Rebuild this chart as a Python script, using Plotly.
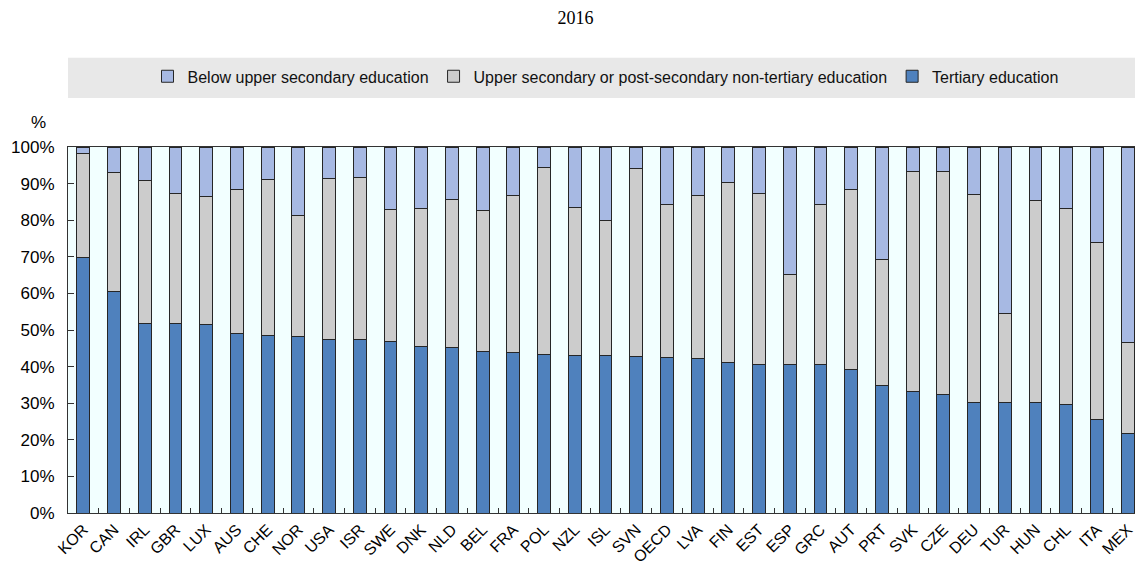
import plotly.graph_objects as go

countries = ["KOR", "CAN", "IRL", "GBR", "LUX", "AUS", "CHE", "NOR", "USA", "ISR",
             "SWE", "DNK", "NLD", "BEL", "FRA", "POL", "NZL", "ISL", "SVN", "OECD",
             "LVA", "FIN", "EST", "ESP", "GRC", "AUT", "PRT", "SVK", "CZE", "DEU",
             "TUR", "HUN", "CHL", "ITA", "MEX"]

tertiary = [69.7, 60.4, 51.7, 51.7, 51.4, 49.0, 48.6, 48.3, 47.3, 47.3,
            46.9, 45.6, 45.2, 44.1, 43.8, 43.4, 43.0, 43.0, 42.8, 42.4,
            42.1, 41.1, 40.7, 40.7, 40.7, 39.3, 34.8, 33.1, 32.5, 30.3,
            30.3, 30.3, 29.7, 25.6, 21.7]

upper_secondary = [28.4, 32.6, 39.2, 35.7, 35.0, 39.4, 42.6, 32.9, 44.2, 44.5,
                   36.1, 37.7, 40.5, 38.5, 42.9, 50.9, 40.6, 36.8, 51.2, 41.8,
                   44.6, 49.1, 46.7, 24.6, 43.5, 49.1, 34.6, 60.2, 60.8, 56.7,
                   24.3, 55.1, 53.5, 48.3, 24.8]

below_upper = [1.9, 7.0, 9.1, 12.6, 13.6, 11.6, 8.8, 18.8, 8.5, 8.2,
               17.0, 16.7, 14.3, 17.4, 13.3, 5.7, 16.4, 20.2, 6.0, 15.8,
               13.3, 9.8, 12.6, 34.7, 15.8, 11.6, 30.6, 6.7, 6.7, 13.0,
               45.4, 14.6, 16.8, 26.1, 53.5]

y_ticks = [0, 10, 20, 30, 40, 50, 60, 70, 80, 90, 100]
y_tick_text = [f"{v}%" for v in y_ticks]

series = [
    ("Tertiary education", tertiary, "#4F81BD"),
    ("Upper secondary or post-secondary non-tertiary education", upper_secondary, "#CCCCCC"),
    ("Below upper secondary education", below_upper, "#A7B9E3"),
]

SANS = "Liberation Sans, Arial, sans-serif"

fig = go.Figure()
for name, vals, color in series:
    fig.add_trace(go.Bar(
        x=countries, y=vals, name=name,
        marker=dict(color=color, line=dict(color="#262626", width=1)),
        width=0.42,
    ))

# page body has an 8px default margin, so the figure is drawn 8px smaller
fig.update_layout(
    width=1135, height=558,
    barmode="stack",
    paper_bgcolor="white",
    plot_bgcolor="#F2FFFF",
    margin=dict(l=60, r=0, t=139, b=46),
    font=dict(family=SANS, size=14, color="#000"),
    title=dict(text="2016", x=0.5, xanchor="center", y=0.982, yanchor="middle",
               font=dict(family="Liberation Serif, Times New Roman, serif", size=18, color="#000")),
    showlegend=True,
    legend=dict(orientation="h", traceorder="reversed",
                x=0.5, xanchor="center", y=1.193, yanchor="middle",
                bgcolor="rgba(0,0,0,0)",
                font=dict(family=SANS, size=16, color="#111"),
                itemwidth=30),
    shapes=[dict(type="rect", xref="paper", yref="paper", x0=0, x1=1,
                 y0=1.134, y1=1.244, fillcolor="#E8E8E8", line=dict(width=0), layer="below")],
    annotations=[dict(text="%", xref="paper", yref="paper", x=0, y=1, xanchor="center",
                      yanchor="middle", xshift=-30, yshift=25, showarrow=False,
                      font=dict(family=SANS, size=17, color="#000"))],
)

fig.update_xaxes(
    type="category", tickangle=-45, tickfont=dict(family=SANS, size=16, color="#000"),
    showline=True, linecolor="#333", linewidth=1, mirror=True,
    ticks="inside", ticklen=5, tickcolor="#333", tickson="boundaries",
    showgrid=False, range=[-0.5, len(countries) - 0.5],
)
fig.update_yaxes(
    range=[0, 100], tickvals=y_ticks, ticktext=y_tick_text,
    tickfont=dict(family=SANS, size=17, color="#000"),
    showline=True, linecolor="#333", linewidth=1,
    ticks="inside", ticklen=6, tickcolor="#333",
    showgrid=False, zeroline=False, ticklabelstandoff=9,
)

fig.write_html("out.html")
